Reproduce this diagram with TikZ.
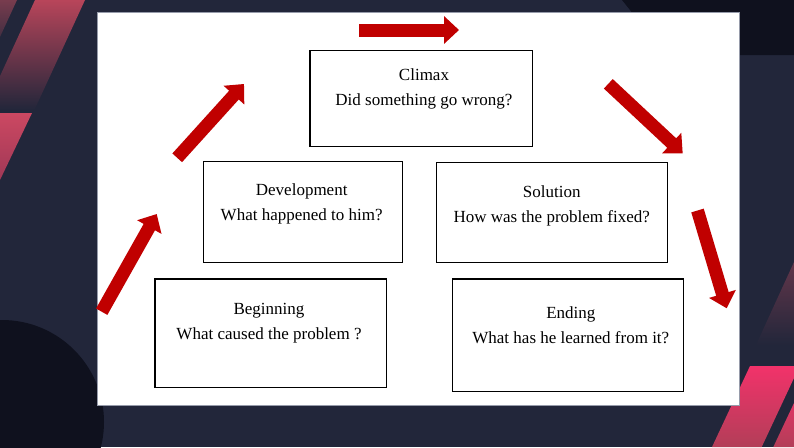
\documentclass[tikz,border=0pt]{standalone}
\usepackage{fontspec}
\setmainfont{Liberation Serif}
\usetikzlibrary{arrows.meta}
\definecolor{bgnavy}{RGB}{34,38,58}
\definecolor{darknavy}{RGB}{15,17,30}
\definecolor{arrowred}{RGB}{192,0,0}
\definecolor{stripered}{RGB}{184,69,90}
\definecolor{stripedull}{RGB}{120,60,78}
\definecolor{tripink}{RGB}{204,72,98}
\definecolor{tripinkdark}{RGB}{160,56,86}
\definecolor{hotpink}{RGB}{242,50,106}
\definecolor{hotpinkdark}{RGB}{178,62,88}
\definecolor{faintred}{RGB}{98,54,74}
\definecolor{slideedge}{RGB}{150,155,170}
\begin{document}
\begin{tikzpicture}[x=1pt,y=-1pt,
  box/.style={draw=black, line width=1.3pt, fill=white, inner sep=0pt},
  txt/.style={align=center, inner sep=0pt, font=\fontsize{17}{25}\selectfont},
  blockarrow/.style={draw=arrowred, line width=13pt, -{Triangle[width=27pt,length=15pt]}}]
\useasboundingbox (0,0) rectangle (794,447);
\clip (0,0) rectangle (794,447);
% background
\fill[bgnavy] (0,0) rectangle (794,447);
\fill[darknavy] (622,0) -- (794,0) -- (794,55) -- (666,55) -- cycle;
\fill[darknavy] (2,422) circle (102);
% left decor
\shade[top color=stripedull, bottom color=bgnavy] (-10,0) -- (17,0) -- (-10.6,60) -- (-37.6,60) -- cycle;
\shade[top color=stripered, bottom color=bgnavy] (35,0) -- (85,0) -- (34.4,110) -- (-15.6,110) -- cycle;
\shade[top color=tripink, bottom color=tripinkdark] (0,113) -- (32,113) -- (0,180) -- cycle;
% right decor
\shade[top color=faintred, bottom color=bgnavy] (794,262) -- (794,345) -- (756,345) -- cycle;
\shade[top color=hotpink, bottom color=hotpinkdark] (750,366) -- (794,366) -- (794,378) -- (761.7,447) -- (712,447) -- cycle;
\shade[top color=hotpink!70!hotpinkdark, bottom color=hotpinkdark] (794,403) -- (794,447) -- (773.3,447) -- cycle;
% slide
\filldraw[fill=white, draw=slideedge, line width=0.8pt] (97,12.5) rectangle (739,405.5);
% boxes
\node[box, minimum width=222.7pt, minimum height=96pt] (climax) at (421.4,98.7) {};
\node[box, minimum width=199pt, minimum height=101pt] (dev) at (302.8,212.2) {};
\node[box, minimum width=231.7pt, minimum height=108.3pt] (beg) at (270.9,333.2) {};
\node[box, minimum width=230.6pt, minimum height=100pt] (sol) at (552,212.3) {};
\node[box, minimum width=230.6pt, minimum height=112.7pt] (end) at (568,335.4) {};
% texts
\node[txt] (climaxT) at (424,89) {Climax\\Did something go wrong?};
\node[txt] (devT) at (301.7,204) {Development\\What happened to him?};
\node[txt] (begT) at (269,323.5) {Beginning\\What caused the problem ?};
\node[txt] (solT) at (551.7,206.2) {Solution\\How was the problem fixed?};
\node[txt] (endT) at (570.8,325.3) {Ending\\What has he learned from it?};
% arrows
\coordinate (aS) at (101.7,311.7); \coordinate (aE) at (156.7,214);
\coordinate (bS) at (177.2,157.8); \coordinate (bE) at (244,84);
\coordinate (eS) at (359,30);      \coordinate (eE) at (459,30);
\coordinate (cS) at (608.3,83.8);  \coordinate (cE) at (682.7,153.3);
\coordinate (dS) at (697.5,210.5); \coordinate (dE) at (726.7,308.3);
\draw[blockarrow] (aS) -- (aE);
\draw[blockarrow] (bS) -- (bE);
\draw[blockarrow] (eS) -- (eE);
\draw[blockarrow] (cS) -- (cE);
\draw[blockarrow] (dS) -- (dE);
\end{tikzpicture}
\end{document}
